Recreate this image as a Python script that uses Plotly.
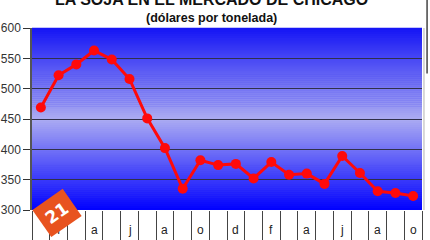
import plotly.graph_objects as go

months = ["ene-07", "feb-07", "mar-07", "abr-07", "may-07", "jun-07", "jul-07", "ago-07",
          "sep-07", "oct-07", "nov-07", "dic-07", "ene-08", "feb-08", "mar-08", "abr-08",
          "may-08", "jun-08", "jul-08", "ago-08", "sep-08", "oct-08"]
prices = [469, 522, 540, 563, 548, 516, 451, 402, 335, 382, 374, 376, 352, 379, 358, 360,
          343, 389, 361, 331, 328, 323]
tick_text = ["", "f", "", "a", "", "j", "", "a", "", "o", "", "d", "", "f", "", "a", "",
             "j", "", "a", "", "o"]
y_ticks = [300, 350, 400, 450, 500, 550, 600]

fig = go.Figure()
fig.add_trace(go.Scatter(
    x=months, y=prices, mode="lines+markers",
    line=dict(color="#ff0a0a", width=3),
    marker=dict(color="#ff0a0a", size=10),
    showlegend=False, hoverinfo="skip"))

# vertical gradient background (blue -> lavender -> blue)
def lerp(a, b, t):
    return tuple(int(round(a[i] + (b[i] - a[i]) * t)) for i in range(3))

top = (20, 20, 245)
mid = (172, 172, 242)
bot = (0, 0, 255)
mid_pos = 0.5  # fraction from bottom
n = 90
shapes = []
for i in range(n):
    y0 = i / n
    y1 = (i + 1) / n
    yc = (y0 + y1) / 2
    if yc < mid_pos:
        c = lerp(bot, mid, yc / mid_pos)
    else:
        c = lerp(mid, top, (yc - mid_pos) / (1 - mid_pos))
    shapes.append(dict(type="rect", xref="x domain", yref="y domain",
                       x0=0, x1=1, y0=y0, y1=y1 + 0.002, layer="below",
                       line=dict(width=0), fillcolor="rgb(%d,%d,%d)" % c))
# right frame lines
shapes.append(dict(type="line", xref="paper", yref="paper", x0=1.005, x1=1.005,
                   y0=0, y1=1, line=dict(color="#cccccc", width=1.5)))
shapes.append(dict(type="line", xref="paper", yref="paper", x0=1.013, x1=1.013,
                   y0=0.75, y1=1.2, line=dict(color="#444444", width=1.5)))

annotations = [
    dict(text="<b>LA SOJA EN EL MERCADO DE CHICAGO</b>", xref="paper", yref="paper",
         x=0.46, y=1, yshift=29, showarrow=False, xanchor="center", yanchor="middle",
         font=dict(size=16, color="#111111", family="Liberation Sans, Arial")),
    dict(text="<b>(dólares por tonelada)</b>", xref="paper", yref="paper",
         x=0.46, y=1, yshift=10, showarrow=False, xanchor="center", yanchor="middle",
         font=dict(size=12.5, color="#111111", family="Liberation Sans, Arial")),
]
for m, t in zip(months, tick_text):
    if t:
        annotations.append(dict(text=t, x=m, xref="x", y=0, yref="paper", yshift=-20,
                                showarrow=False, xanchor="center", yanchor="middle",
                                font=dict(size=12, color="#222222")))
annotations.append(dict(text="<b>21</b>", xref="paper", yref="paper", x=0.064, y=0,
                        yshift=-3, xanchor="center", yanchor="middle",
                        showarrow=False, textangle=-35, bgcolor="#e8531f",
                        borderpad=6, font=dict(size=17, color="white",
                                               family="DejaVu Sans")))

fig.update_layout(
    width=430, height=240,
    margin=dict(l=32, r=8, t=28, b=30),
    paper_bgcolor="white", plot_bgcolor="#4040f0",
    shapes=shapes,
    font=dict(family="Liberation Sans, Arial, sans-serif", color="#333333"),
    annotations=annotations,
)
fig.update_yaxes(range=[300, 600], tickvals=y_ticks, ticks="outside", ticklen=7,
                 tickcolor="#333333", showgrid=True, gridcolor="#30304a", gridwidth=1.3,
                 showline=True, linecolor="#555555", linewidth=1.5, automargin=False,
                 tickfont=dict(size=12, color="#333333"), zeroline=False)
fig.update_xaxes(type="category", tickvals=months, ticktext=[""] * len(months),
                 tickson="boundaries", ticks="outside", ticklen=30, tickcolor="#444444",
                 tickwidth=1.2, showgrid=False, showline=False, automargin=False,
                 range=[-0.5, 21.5])

fig.write_html("out.html")
